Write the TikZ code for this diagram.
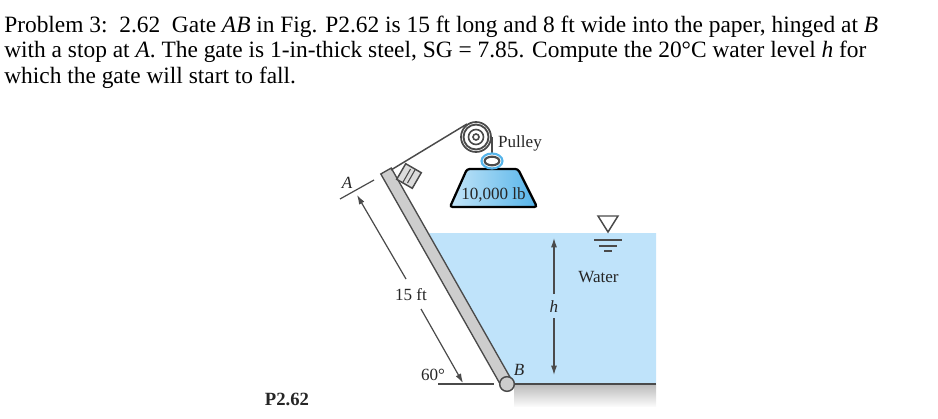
\documentclass[tikz,border=0pt]{standalone}
\usepackage{fontspec}
\setmainfont{Liberation Serif}
\usetikzlibrary{arrows.meta,calc,shapes.geometric}
\definecolor{waterblue}{HTML}{BFE3FA}
\definecolor{gategray}{HTML}{CDCDCD}
\definecolor{linegray}{HTML}{4A4A4A}
\definecolor{weightblue}{HTML}{55B4EA}
\tikzset{
    problemline/.style={anchor=base west, inner sep=0pt, font=\fontsize{17.55}{20}\selectfont},
    figlabel/.style={inner sep=0pt, font=\fontsize{12.8}{14}\selectfont, text=black!85},
    figitalic/.style={figlabel, font=\fontsize{12.8}{14}\selectfont\itshape},
    dimline/.style={draw=linegray, line width=0.9pt},
    dimarrow/.style={dimline, -{Latex[length=7pt,width=4.5pt]}},
}
\begin{document}
\begin{tikzpicture}[x=0.75pt, y=-0.75pt]
    \useasboundingbox (0, 0) rectangle (938, 418);
    \node[problemline] (line1) at (4, 32)
        {Problem 3:\ \ 2.62\ \ Gate \textit{AB} in Fig. P2.62 is 15 ft long and 8 ft wide into the paper, hinged at \textit{B}};
    \node[problemline] (line2) at (4, 57.5)
        {with a stop at \textit{A}. The gate is 1-in-thick steel, SG = 7.85. Compute the 20°C water level \textit{h} for};
    \node[problemline] (line3) at (4, 83) {which the gate will start to fall.};

    \coordinate (gatetop) at (386, 171);
    \coordinate (hingept) at (507, 384);
    \coordinate (groundleft) at (514, 384);
    \coordinate (groundright) at (656, 384);
    \coordinate (surfleft) at (429, 233);
    \coordinate (surfright) at (656, 233);

    \fill[waterblue] (surfleft) -- (surfright) -- (groundright) -- (groundleft) -- (hingept) -- cycle;
    \shade[top color=black!27, bottom color=black!2] (groundleft) rectangle (656, 406);
    \draw[linegray, line width=1.3pt] (groundleft) -- (groundright);
    \draw[linegray, line width=1.3pt] (438, 384) -- (494, 384);

    \draw[line width=1pt, fill=gategray, draw=linegray]
        ($(gatetop)!4.5pt!90:(hingept)$) -- ($(gatetop)!4.5pt!-90:(hingept)$)
        -- ($(hingept)!4.5pt!90:(gatetop)$) -- ($(hingept)!4.5pt!-90:(gatetop)$) -- cycle;
    \node[circle, draw=linegray, fill=gategray, line width=1.1pt, minimum size=11pt, inner sep=0pt] (hinge) at (hingept) {};

    \node[draw=linegray, fill=gategray!70, line width=1.1pt, minimum size=13.5pt, inner sep=0pt, rotate=-30] (stop) at (409, 176) {};
    \foreach \i in {-2.5, 2.5}{
        \draw[linegray, line width=0.8pt] ($(stop.center)+(\i, 0)+(4, -7)$) -- ($(stop.center)+(\i, 0)+(-4, 7)$);
    }

    \node[circle, draw=linegray, fill=white, line width=1.3pt, minimum size=22.5pt, inner sep=0pt] (pulley) at (476, 137) {};
    \foreach \r/\lw in {12.5/1.4pt, 7.5/1.2pt, 3/1.2pt}{
        \draw[linegray, line width=\lw] (pulley.center) circle (\r);
    }
    \coordinate (ropestart) at (391, 170);
    \draw[linegray, line width=1.1pt] (ropestart) -- (pulley.125);
    \draw[linegray, line width=1.1pt] (pulley.east) -- ++(0, 16);

    \draw[draw=black, line width=1.7pt, rounded corners=2pt, left color=weightblue!35, right color=weightblue]
        (467, 169) -- (518, 169) -- (537, 207) -- (450, 207) -- cycle;
    \node[ellipse, draw=black!70, fill=white, line width=1.6pt, minimum width=11pt, minimum height=6.5pt, inner sep=0pt] (ring) at (492, 161) {};
    \draw[weightblue, line width=1.6pt] (ring.center) ellipse (10.5 and 7.5);

    \node[figlabel] (pulleylabel) at (520, 143) {Pulley};
    \node[figlabel] (weightlabel) at (493.5, 195) {10,000 lb};
    \node[figlabel] (waterlabel) at (598.5, 277) {Water};
    \node[figlabel] (lengthlabel) at (411, 295) {15 ft};
    \node[figlabel] (anglelabel) at (433, 375) {60°};
    \node[figitalic] (alabel) at (347, 183) {A};
    \node[figitalic] (blabel) at (519, 370) {B};
    \node[figitalic] (hlabel) at (554, 307) {h};
    \node[figlabel, font=\fontsize{14}{16}\selectfont\bfseries] (figlabel) at (287, 399) {P2.62};

    \draw[dimline] (340, 199) -- (374, 180);
    \draw[dimarrow] (406, 279) -- (357, 195);
    \draw[dimarrow] (421, 309) -- (463, 383);
    \draw[dimarrow] (554, 294) -- (554, 238);
    \draw[dimarrow] (554, 318) -- (554, 375);

    \draw[linegray, line width=1.1pt] (598, 216) -- (618, 216) -- (608, 232) -- cycle;
    \foreach \y/\w in {240/14, 246/9, 251/4}{
        \draw[linegray, line width=1.1pt] (608-\w, \y) -- (608+\w, \y);
    }
\end{tikzpicture}
\end{document}
